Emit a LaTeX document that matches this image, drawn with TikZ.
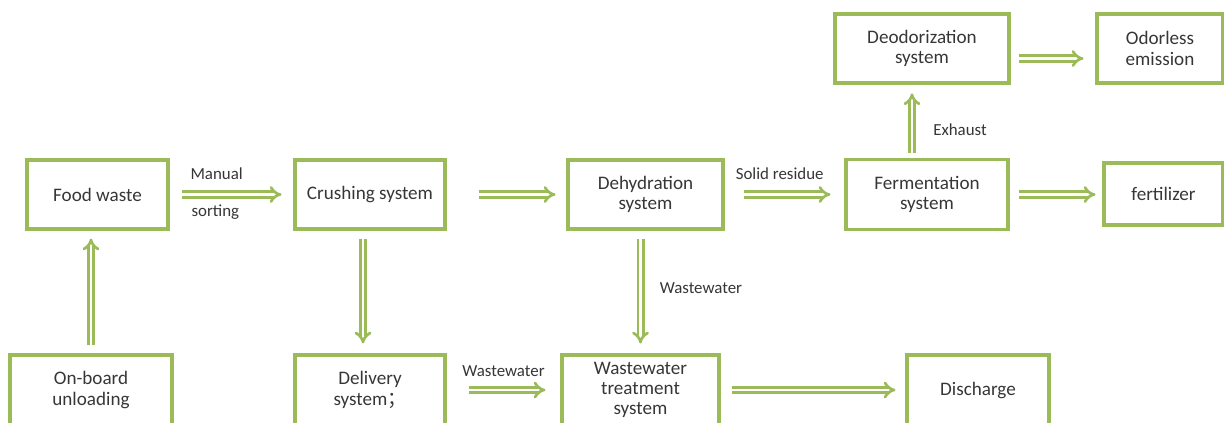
\documentclass[tikz,border=0pt]{standalone}
\usepackage{fontspec}
\setmainfont{Carlito}
\newfontfamily\cjk{Noto Sans CJK SC}
\usetikzlibrary{arrows.meta}
\definecolor{leaf}{HTML}{9BBB59}
\definecolor{ink}{HTML}{363636}
\begin{document}
\begin{tikzpicture}[
  box/.style = {rectangle, draw = leaf, line width = 2.2pt, align = center, text = ink,
                font = \fontsize{13.6}{14.5}\selectfont},
  flow/.style = {draw = leaf, line width = 1.9pt, double = white, double distance = 1.9pt, -{Implies[scale = 1.15]}},
  note/.style = {inner sep = 0pt, text = ink, font = \fontsize{12}{13}\selectfont}
]
  \useasboundingbox (0,0) rectangle (30.6,10.55);

  \node[box, minimum width = 3.525cm, minimum height = 1.725cm] (food)   at (2.4375,  5.6875) {Food waste};
  \node[box, minimum width = 3.75cm,  minimum height = 1.725cm] (crush)  at (9.25,    5.6875) {Crushing system};
  \node[box, minimum width = 3.875cm, minimum height = 1.725cm] (dehyd)  at (16.1375, 5.6875) {Dehydration\\system};
  \node[box, minimum width = 4.05cm,  minimum height = 1.75cm]  (ferm)   at (23.175,  5.6875) {Fermentation\\system};
  \node[box, minimum width = 2.975cm, minimum height = 1.55cm]  (fert)   at (29.0875, 5.7)    {fertilizer};
  \node[box, minimum width = 4.35cm,  minimum height = 1.725cm] (deodor) at (23.05,   9.3375) {Deodorization\\system};
  \node[box, minimum width = 3.15cm,  minimum height = 1.725cm] (odor)   at (29.0,    9.3375) {Odorless\\emission};
  \node[box, minimum width = 4.05cm,  minimum height = 1.75cm]  (unload) at (2.275,   0.8)    {On-board\\unloading};
  \node[box, minimum width = 3.75cm,  minimum height = 1.75cm]  (deliv)  at (9.25,    0.8)    {Delivery\\system{\cjk ；}};
  \node[box, minimum width = 3.925cm, minimum height = 1.75cm]  (wwt)    at (16.0125, 0.8)    {Wastewater\\treatment\\system};
  \node[box, minimum width = 3.55cm,  minimum height = 1.75cm]  (disch)  at (24.45,   0.8)    {Discharge};

  \draw[flow, shorten <= 0.3cm, shorten >= 0.3cm] (food.east) -- (crush.west)
    node[note, pos = 0.38, above = 0.33cm] {Manual}
    node[note, pos = 0.37, below = 0.22cm] {sorting};
  \draw[flow, shorten <= 0.8cm, shorten >= 0.275cm] (crush.east) -- (dehyd.west);
  \draw[flow, shorten <= 0.475cm, shorten >= 0.35cm] (dehyd.east) -- (ferm.west)
    node[note, pos = 0.46, above = 0.34cm] {Solid residue};
  \draw[flow, shorten <= 0.225cm, shorten >= 0.175cm] (ferm.east) -- (ferm.east -| fert.west);
  \draw[flow, shorten <= 0.2cm, shorten >= 0.3cm] ([yshift = -0.25cm]deodor.east) -- ([yshift = -0.25cm]odor.west);
  \draw[flow, shorten <= 0.125cm, shorten >= 0.22cm] ([xshift = -0.25cm]deodor.south |- ferm.north) -- ([xshift = -0.25cm]deodor.south)
    node[note, pos = 0.39, right = 0.5cm] {Exhaust};
  \draw[flow, shorten <= 0.2cm, shorten >= 0.2cm] (unload.north) -- (unload.north |- food.south);
  \draw[flow, shorten <= 0.22cm, shorten >= 0.25cm] ([xshift = -0.175cm]crush.south) -- ([xshift = -0.175cm]deliv.north);
  \draw[flow, shorten <= 0.22cm, shorten >= 0.25cm] (dehyd.south -| wwt.north) -- (wwt.north)
    node[note, pos = 0.47, right = 0.45cm] {Wastewater};
  \draw[flow, shorten <= 0.55cm, shorten >= 0.375cm] (deliv.east) -- (wwt.west)
    node[note, pos = 0.5, above = 0.3cm] {Wastewater};
  \draw[flow, shorten <= 0.275cm, shorten >= 0.25cm] (wwt.east) -- (disch.west);
\end{tikzpicture}
\end{document}
